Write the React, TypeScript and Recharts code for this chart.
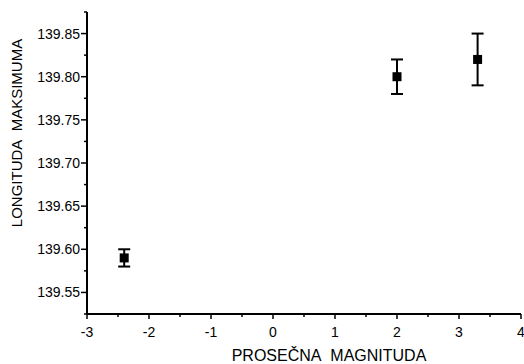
import { ScatterChart, Scatter, XAxis, YAxis, ErrorBar, Label } from "recharts";

const magnitude = [-2.4, 2.0, 3.3];
const longitude = [139.59, 139.8, 139.82];
const longitudeErr = [0.01, 0.02, 0.03];

const xMajor = [-3, -2, -1, 0, 1, 2, 3, 4];
const xMinor = [-2.5, -1.5, -0.5, 0.5, 1.5, 2.5, 3.5];
const yMajor = [139.55, 139.6, 139.65, 139.7, 139.75, 139.8, 139.85];
const yMinor = [139.525, 139.575, 139.625, 139.675, 139.725, 139.775, 139.825, 139.875];

const data = magnitude.map((m, i) => ({ x: m, y: longitude[i], err: longitudeErr[i] }));

const FONT = "'Liberation Sans', Arial, sans-serif";

const isMajor = (list: number[], v: number) => list.some((t) => Math.abs(t - v) < 1e-6);

const YTick = ({ x, y, payload }: any) => {
  const major = isMajor(yMajor, payload.value);
  const len = major ? 6 : 3;
  return (
    <g>
      <line x1={x - len} x2={x} y1={y} y2={y} stroke="#000" strokeWidth={1.5} />
      {major && (
        <text x={x - len - 1} y={y} dy={5} textAnchor="end" fontSize={14} fontFamily={FONT} fill="#000">
          {payload.value.toFixed(2)}
        </text>
      )}
    </g>
  );
};

const XTick = ({ x, y, payload }: any) => {
  const major = isMajor(xMajor, payload.value);
  const len = major ? 5 : 3;
  return (
    <g>
      <line x1={x} x2={x} y1={y} y2={y + len} stroke="#000" strokeWidth={1.5} />
      {major && (
        <text x={x} y={y + 23} textAnchor="middle" fontSize={14} fontFamily={FONT} fill="#000">
          {payload.value}
        </text>
      )}
    </g>
  );
};

const Marker = ({ cx, cy }: any) => <rect x={cx - 4.5} y={cy - 4.5} width={9} height={9} fill="#000" />;

export default function App() {
  return (
    <div style={{ position: "absolute", left: 0, top: 0, background: "#fff" }}>
      <ScatterChart width={524} height={364} margin={{ top: 12, right: 3, bottom: 0, left: 0 }}>
        <XAxis
          type="number"
          dataKey="x"
          domain={[-3, 4]}
          ticks={[...xMajor, ...xMinor].sort((a, b) => a - b)}
          tick={<XTick />}
          tickLine={false}
          tickSize={0}
          tickMargin={0}
          axisLine={{ stroke: "#000", strokeWidth: 2 }}
          height={50}
          interval={0}
        >
          <Label
            value={"PROSEČNA\u00a0 MAGNITUDA"}
            position="insideBottom"
            offset={3}
            dx={25}
            style={{ fontSize: 16, fontFamily: FONT, fill: "#000" }}
          />
        </XAxis>
        <YAxis
          type="number"
          dataKey="y"
          domain={[139.525, 139.875]}
          ticks={[...yMajor, ...yMinor].sort((a, b) => a - b)}
          tick={<YTick />}
          tickLine={false}
          tickSize={0}
          tickMargin={0}
          axisLine={{ stroke: "#000", strokeWidth: 2 }}
          width={87}
          interval={0}
        >
          <Label
            value={"LONGITUDA\u00a0 MAKSIMUMA"}
            angle={-90}
            position="insideLeft"
            offset={17}
            dy={-30}
            style={{ fontSize: 15, fontFamily: FONT, fill: "#000", textAnchor: "middle" }}
          />
        </YAxis>
        <Scatter data={data} fill="#000" shape={<Marker />} isAnimationActive={false}>
          <ErrorBar dataKey="err" direction="y" width={6} stroke="#000" strokeWidth={2} />
        </Scatter>
      </ScatterChart>
    </div>
  );
}
